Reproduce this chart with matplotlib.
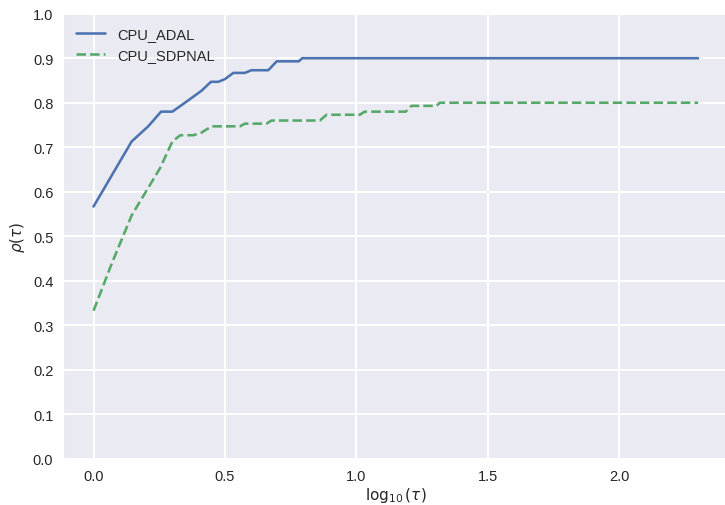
import matplotlib
matplotlib.use('Agg')
import matplotlib.pyplot as plt
import seaborn as sns
import numpy as np

# performance profile data
adal_x = [0.0, 0.145, 0.208, 0.257, 0.300, 0.348, 0.411, 0.447, 0.475, 0.500,
          0.532, 0.576, 0.601, 0.665, 0.697, 0.781, 0.794, 2.301]
adal_y = [0.567, 0.713, 0.747, 0.780, 0.780, 0.800, 0.827, 0.847, 0.847, 0.853,
          0.867, 0.867, 0.873, 0.873, 0.893, 0.893, 0.900, 0.900]

sdp_x = [0.0, 0.07, 0.145, 0.253, 0.300, 0.330, 0.380, 0.411, 0.449, 0.557,
         0.576, 0.658, 0.677, 0.861, 0.887, 1.013, 1.032, 1.188, 1.210, 1.305,
         1.318, 2.301]
sdp_y = [0.333, 0.440, 0.547, 0.653, 0.713, 0.727, 0.727, 0.733, 0.747, 0.747,
         0.753, 0.753, 0.760, 0.760, 0.773, 0.773, 0.780, 0.780, 0.793, 0.793,
         0.800, 0.800]

sns.set_style('darkgrid')
plt.rcParams['font.family'] = ['Liberation Sans', 'DejaVu Sans']
plt.rcParams['mathtext.fontset'] = 'dejavusans'
plt.rcParams['grid.linewidth'] = 1.4

fig = plt.figure(figsize=(7.25, 5.06), dpi=100)
ax = fig.add_axes([0.087, 0.091, 0.918, 0.880])

ax.plot(adal_x, adal_y, '-', color='#4C72B0', lw=1.85, label='CPU_ADAL')
ax.plot(sdp_x, sdp_y, '--', color='#55A868', lw=1.85, label='CPU_SDPNAL')

ax.set_ylim(0, 1.0)
ax.set_yticks(np.arange(0, 1.01, 0.1))
ax.set_xticks([0.0, 0.5, 1.0, 1.5, 2.0])
ax.set_xlim(-0.116, 2.417)
ax.tick_params(labelsize=10.5, colors='#262626')
ax.set_xlabel(r'$\log_{10}(\tau)$', fontsize=11, color='#262626', labelpad=2)
ax.set_ylabel(r'$\rho(\tau)$', fontsize=11, color='#262626')
ax.legend(loc='upper left', fontsize=10.5, frameon=False)

fig.savefig('out.png', dpi=100)
